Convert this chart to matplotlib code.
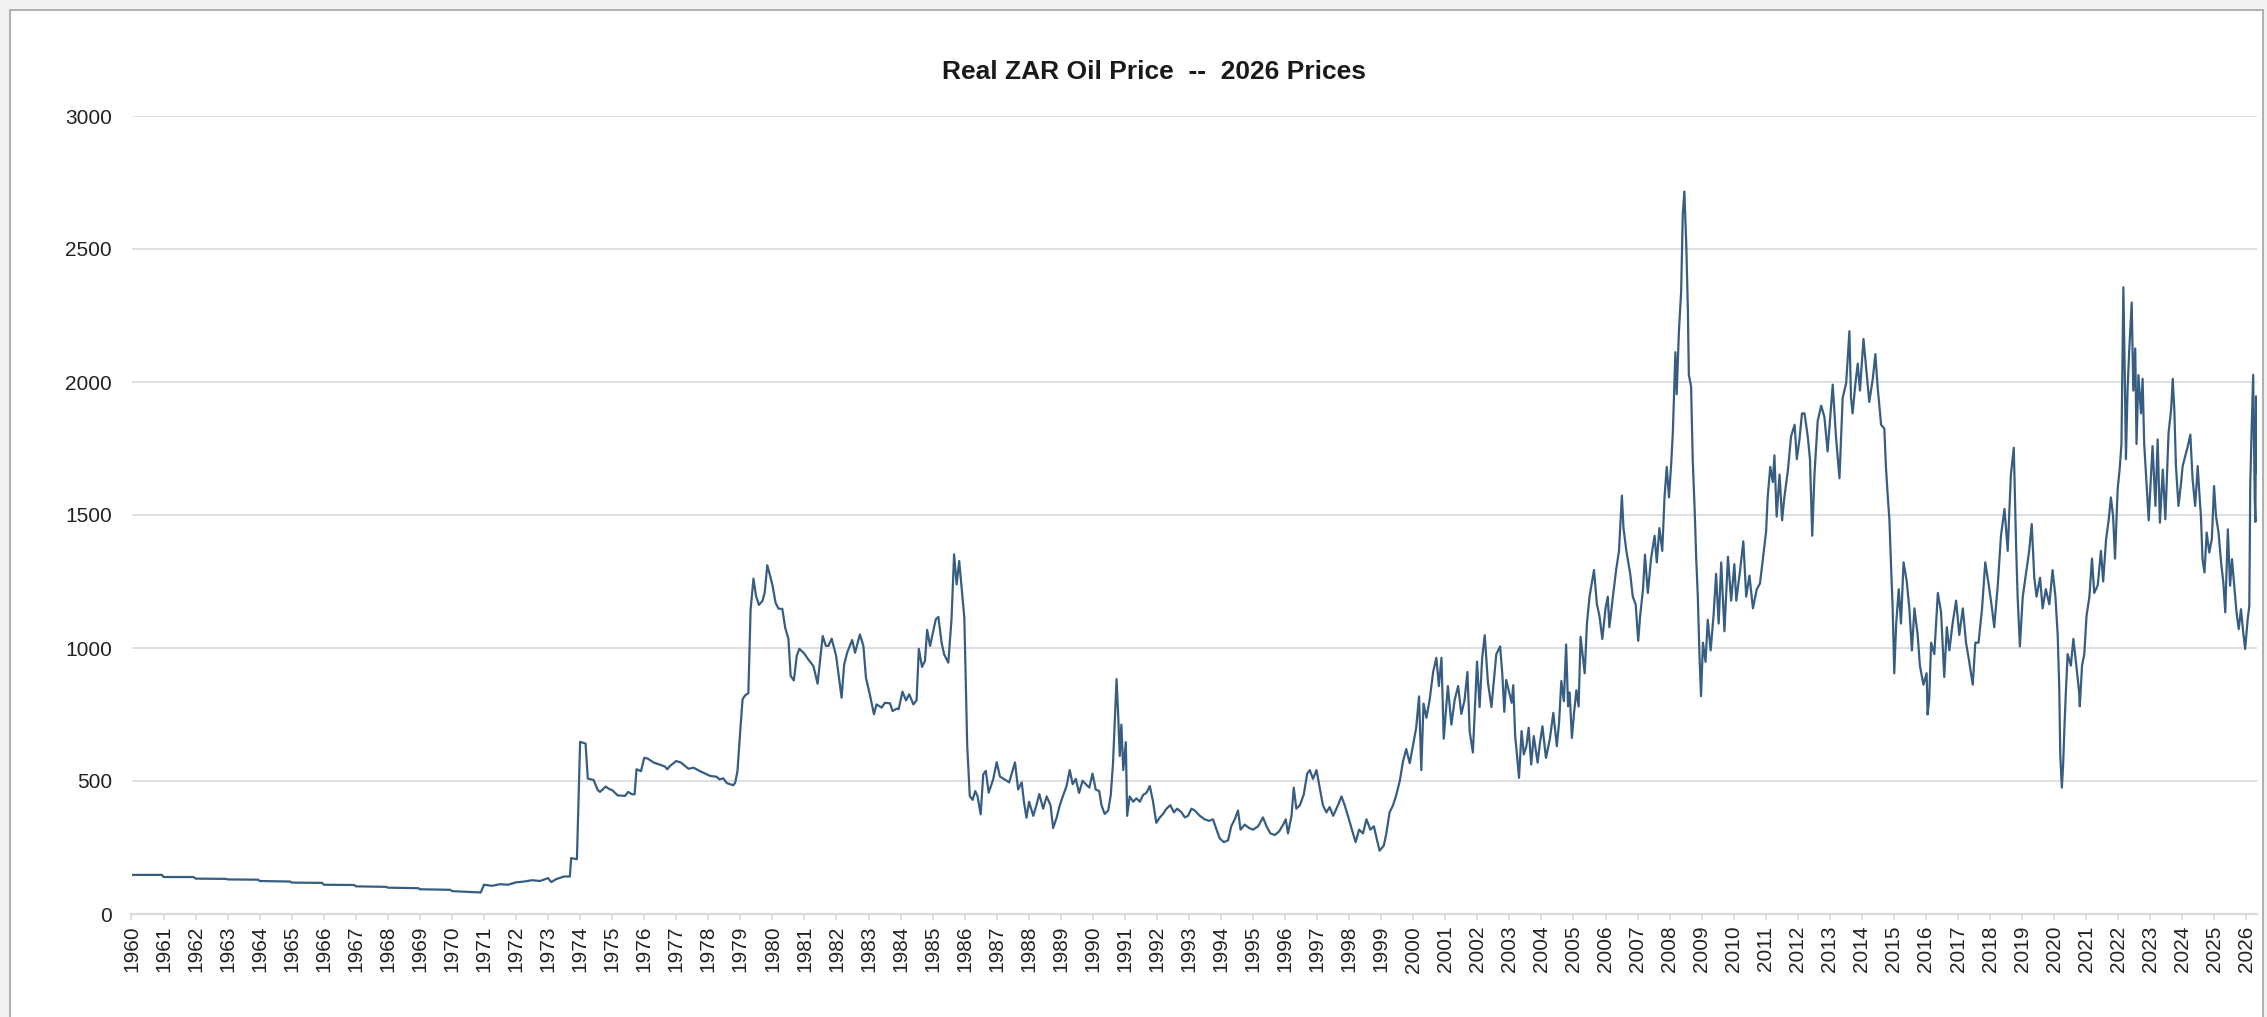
import numpy as np
import matplotlib
matplotlib.use("Agg")
import matplotlib.pyplot as plt
from matplotlib.patches import Rectangle

plt.rcParams["font.family"] = ["Liberation Sans", "DejaVu Sans"]

LINE_COL = "#375e82"
GRID_COL = "#d9d9d9"
TEXT_COL = "#222222"

TITLE = "Real ZAR Oil Price  --  2026 Prices"

# decimal year / real price (2026 rand)
t_1960 = [1960.00, 1960.95, 1961.00, 1961.93, 1962.00, 1962.95, 1963.00, 1963.95,
          1964.00, 1964.95, 1965.00, 1965.95, 1966.00, 1966.95, 1967.00, 1967.95,
          1968.00, 1968.95, 1969.00, 1969.95, 1970.00, 1970.90, 1971.00, 1971.25,
          1971.50, 1971.75, 1972.00, 1972.25, 1972.50, 1972.75, 1973.00, 1973.10,
          1973.25, 1973.50, 1973.68, 1973.72, 1973.90, 1974.00, 1974.17, 1974.24,
          1974.42, 1974.55, 1974.62, 1974.80, 1974.92, 1975.00, 1975.17, 1975.40,
          1975.50, 1975.62, 1975.70, 1975.76, 1975.90, 1976.00, 1976.10, 1976.30,
          1976.50, 1976.65, 1976.72, 1976.80, 1977.00, 1977.15, 1977.38, 1977.54,
          1977.74, 1978.06, 1978.26, 1978.35, 1978.47, 1978.58, 1978.78, 1978.84,
          1978.91]
p_1960 = [147, 147, 139, 139, 133, 132, 130, 129,
          124, 122, 118, 117, 110, 109, 104, 102,
          99, 97, 93, 91, 86, 81, 110, 106,
          112, 110, 119, 122, 127, 124, 135, 120,
          131, 141, 141, 210, 206, 647, 641, 509,
          504, 466, 459, 479, 469, 466, 446, 444,
          459, 450, 450, 544, 537, 587, 585, 569,
          561, 554, 544, 556, 575, 569, 546, 550,
          537, 519, 516, 506, 510, 492, 484, 494,
          537]

t_1979 = [1979.00, 1979.07, 1979.15, 1979.25, 1979.32, 1979.41, 1979.49, 1979.58,
          1979.69, 1979.76, 1979.84, 1979.93, 1980.01, 1980.10, 1980.19, 1980.31,
          1980.40, 1980.50, 1980.57, 1980.67, 1980.76, 1980.84, 1980.99, 1981.12,
          1981.28, 1981.41, 1981.57, 1981.67, 1981.75, 1981.85, 1981.99, 1982.16,
          1982.24, 1982.34, 1982.49, 1982.58, 1982.73, 1982.84, 1982.92, 1983.05,
          1983.17, 1983.25, 1983.41, 1983.51, 1983.67, 1983.75, 1983.88, 1983.94,
          1984.06, 1984.17, 1984.27, 1984.40, 1984.50, 1984.57, 1984.67, 1984.76,
          1984.83, 1984.92, 1985.10, 1985.18, 1985.28, 1985.36, 1985.49, 1985.59,
          1985.67, 1985.75, 1985.83, 1985.99, 1986.08, 1986.16, 1986.25, 1986.33,
          1986.40, 1986.50, 1986.58, 1986.66, 1986.75, 1986.89, 1987.00]
p_1979 = [694, 807, 822, 830, 1145, 1261, 1195, 1162,
          1177, 1208, 1311, 1271, 1231, 1170, 1148, 1147,
          1076, 1035, 895, 878, 970, 997, 980, 957,
          932, 866, 1045, 1008, 1008, 1035, 970, 813,
          939, 985, 1030, 982, 1051, 1008, 888, 820,
          751, 788, 776, 794, 792, 763, 772, 770,
          836, 803, 826, 788, 804, 997, 929, 951,
          1068, 1008, 1108, 1117, 1020, 976, 945, 1108,
          1352, 1239, 1327, 1114, 632, 444, 429, 462,
          444, 375, 525, 538, 456, 506, 571]

t_1987 = [1987.10, 1987.39, 1987.57, 1987.67, 1987.78, 1987.85, 1987.93, 1988.01,
          1988.14, 1988.24, 1988.33, 1988.45, 1988.56, 1988.68, 1988.76, 1988.87,
          1988.97, 1989.08, 1989.18, 1989.28, 1989.37, 1989.47, 1989.57, 1989.68,
          1989.78, 1989.89, 1989.99, 1990.09, 1990.20, 1990.27, 1990.37, 1990.48,
          1990.56, 1990.63, 1990.69, 1990.74, 1990.79, 1990.84, 1990.89, 1990.95,
          1991.03, 1991.07, 1991.15, 1991.26, 1991.36, 1991.47, 1991.57, 1991.67,
          1991.78, 1991.88, 1991.98, 1992.09, 1992.19, 1992.30, 1992.42, 1992.53,
          1992.63, 1992.77, 1992.87, 1992.97, 1993.08, 1993.18, 1993.34, 1993.49,
          1993.63, 1993.75, 1993.86, 1993.96, 1994.09, 1994.22, 1994.32, 1994.43,
          1994.53, 1994.61, 1994.74, 1994.88, 1995.00, 1995.16, 1995.31, 1995.42,
          1995.54, 1995.68, 1995.81, 1995.94, 1996.02, 1996.09, 1996.20, 1996.27,
          1996.35, 1996.46, 1996.58, 1996.69, 1996.77, 1996.87, 1996.98, 1997.08,
          1997.18, 1997.29, 1997.39, 1997.50, 1997.65, 1997.76, 1997.86, 1997.96,
          1998.07, 1998.20, 1998.31, 1998.43, 1998.54, 1998.66, 1998.77, 1998.87,
          1998.95, 1999.08, 1999.16, 1999.26, 1999.37, 1999.47, 1999.58, 1999.68,
          1999.78, 1999.89, 1999.99]
p_1987 = [517, 495, 570, 468, 495, 422, 362, 422,
          369, 409, 451, 396, 442, 409, 323, 362,
          409, 448, 481, 541, 488, 508, 455, 501,
          488, 475, 528, 468, 462, 409, 376, 389,
          448, 567, 738, 883, 752, 594, 712, 541,
          646, 369, 442, 422, 435, 422, 448, 455,
          481, 422, 343, 363, 376, 396, 409, 382,
          396, 382, 363, 369, 396, 389, 369, 356,
          350, 356, 317, 284, 270, 277, 330, 356,
          389, 317, 336, 323, 317, 330, 363, 330,
          303, 297, 310, 336, 356, 303, 369, 475,
          396, 409, 448, 528, 541, 508, 541, 475,
          409, 382, 402, 369, 409, 442, 409, 369,
          323, 270, 317, 303, 356, 317, 330, 277,
          238, 257, 303, 382, 409, 448, 501, 574,
          620, 567, 633]

t_2000 = [2000.09, 2000.18, 2000.25, 2000.32, 2000.41, 2000.51, 2000.62, 2000.72,
          2000.80, 2000.88, 2000.95, 2001.08, 2001.19, 2001.29, 2001.40, 2001.50,
          2001.60, 2001.69, 2001.76, 2001.86, 2001.99, 2002.07, 2002.15, 2002.23,
          2002.33, 2002.44, 2002.59, 2002.71, 2002.78, 2002.84, 2002.90, 2002.96,
          2003.07, 2003.12, 2003.18, 2003.22, 2003.30, 2003.38, 2003.45, 2003.53,
          2003.60, 2003.68, 2003.76, 2003.88, 2003.95, 2004.03, 2004.14, 2004.26,
          2004.37, 2004.48, 2004.55, 2004.62, 2004.70, 2004.77, 2004.83, 2004.88,
          2004.95, 2005.02, 2005.09, 2005.16, 2005.22, 2005.35, 2005.42, 2005.50,
          2005.64, 2005.73, 2005.81, 2005.90, 2006.00, 2006.07, 2006.12, 2006.23,
          2006.33, 2006.42, 2006.51, 2006.56, 2006.65, 2006.77, 2006.85, 2006.94,
          2007.02, 2007.08, 2007.17, 2007.23, 2007.32, 2007.42, 2007.53, 2007.60,
          2007.68, 2007.77, 2007.84, 2007.91, 2007.98, 2008.05, 2008.10, 2008.18,
          2008.22, 2008.29, 2008.36, 2008.41, 2008.46, 2008.52, 2008.57, 2008.60,
          2008.67, 2008.72, 2008.78, 2008.83, 2008.88, 2008.93, 2008.98, 2009.04,
          2009.12, 2009.19, 2009.28, 2009.37, 2009.45, 2009.53, 2009.61, 2009.71,
          2009.82, 2009.92, 2010.02, 2010.08, 2010.20, 2010.30, 2010.39, 2010.49,
          2010.60, 2010.72, 2010.82, 2010.91, 2011.01, 2011.06, 2011.14, 2011.22,
          2011.27, 2011.34, 2011.43, 2011.51, 2011.58, 2011.69, 2011.79, 2011.90,
          2011.97, 2012.05, 2012.13, 2012.21, 2012.31, 2012.38, 2012.45, 2012.52,
          2012.62, 2012.73, 2012.83, 2012.93, 2013.04, 2013.09, 2013.19, 2013.30,
          2013.40, 2013.51]
p_2000 = [699, 818, 541, 791, 738, 804, 910, 963,
          857, 963, 659, 857, 712, 804, 857, 752,
          804, 910, 686, 607, 949, 778, 963, 1048,
          870, 778, 976, 1006, 900, 760, 880, 850,
          794, 860, 669, 619, 512, 688, 600, 631,
          700, 562, 669, 569, 640, 706, 587, 656,
          756, 631, 720, 876, 800, 1013, 781, 833,
          662, 760, 841, 780, 1042, 905, 1092, 1193,
          1293, 1164, 1121, 1034, 1149, 1193, 1078, 1193,
          1293, 1365, 1573, 1451, 1365, 1279, 1193, 1164,
          1027, 1121, 1221, 1351, 1207, 1336, 1422, 1322,
          1451, 1365, 1566, 1681, 1566, 1695, 1810, 2112,
          1954, 2191, 2342, 2629, 2716, 2514, 2270, 2026,
          1983, 1710, 1523, 1336, 1193, 977, 819, 1020,
          948, 1106, 991, 1121, 1279, 1092, 1322, 1063,
          1343, 1178, 1315, 1178, 1293, 1401, 1193, 1272,
          1149, 1221, 1243, 1336, 1437, 1566, 1681, 1624,
          1724, 1494, 1652, 1480, 1566, 1667, 1796, 1839,
          1710, 1782, 1882, 1882, 1796, 1710, 1422, 1652,
          1853, 1911, 1868, 1739, 1911, 1990, 1796, 1638,
          1940, 1997]

t_2013 = [2013.61, 2013.66, 2013.71, 2013.80, 2013.87, 2013.94, 2014.05, 2014.13,
          2014.23, 2014.34, 2014.42, 2014.49, 2014.60, 2014.70, 2014.75, 2014.81,
          2014.86, 2014.91, 2014.96, 2015.01, 2015.07, 2015.15, 2015.22, 2015.30,
          2015.40, 2015.48, 2015.56, 2015.64, 2015.74, 2015.81, 2015.92, 2016.02,
          2016.05, 2016.10, 2016.16, 2016.26, 2016.37, 2016.47, 2016.57, 2016.65,
          2016.73, 2016.83, 2016.94, 2017.04, 2017.15, 2017.25, 2017.35, 2017.46,
          2017.54, 2017.64, 2017.75, 2017.85, 2017.96, 2018.06, 2018.13, 2018.24,
          2018.34, 2018.45, 2018.55, 2018.65, 2018.74, 2018.81, 2018.86, 2018.93,
          2019.02, 2019.12, 2019.22, 2019.30, 2019.38, 2019.45, 2019.56, 2019.64,
          2019.74, 2019.85, 2019.95, 2020.04, 2020.11, 2020.16, 2020.19, 2020.24,
          2020.28, 2020.32, 2020.36, 2020.42, 2020.52, 2020.60, 2020.68, 2020.78,
          2020.80, 2020.87, 2020.94, 2021.01, 2021.10, 2021.18, 2021.25, 2021.36,
          2021.46, 2021.53, 2021.62, 2021.70, 2021.77, 2021.84, 2021.90, 2021.98,
          2022.05, 2022.10, 2022.16, 2022.20, 2022.24, 2022.29, 2022.34, 2022.42,
          2022.47, 2022.53, 2022.57, 2022.63, 2022.71, 2022.76, 2022.81, 2022.88,
          2022.95]
p_2013 = [2191, 1940, 1882, 1997, 2069, 1968, 2162, 2055,
          1925, 2012, 2105, 1983, 1839, 1825, 1681, 1566,
          1480, 1307, 1149, 905, 1092, 1221, 1092, 1322,
          1250, 1149, 991, 1149, 1049, 934, 862, 905,
          750, 807, 1020, 977, 1207, 1135, 891, 1078,
          991, 1092, 1178, 1049, 1149, 1020, 948, 862,
          1020, 1020, 1149, 1322, 1236, 1149, 1078, 1236,
          1422, 1523, 1365, 1652, 1753, 1394, 1193, 1006,
          1193, 1279, 1365, 1466, 1264, 1193, 1264, 1149,
          1221, 1164, 1293, 1193, 1049, 848, 600, 475,
          560, 700, 819, 977, 934, 1034, 948, 833,
          781, 934, 977, 1121, 1193, 1336, 1207, 1236,
          1365, 1250, 1408, 1480, 1566, 1494, 1336, 1595,
          1681, 1767, 2356, 2055, 1710, 1968, 2112, 2299,
          1968, 2126, 1767, 2026, 1882, 2012, 1767, 1624,
          1480]

t_2023 = [2023.07, 2023.16, 2023.23, 2023.30, 2023.39, 2023.47, 2023.57, 2023.65,
          2023.70, 2023.75, 2023.80, 2023.88, 2023.96, 2024.01, 2024.09, 2024.17,
          2024.25, 2024.32, 2024.40, 2024.48, 2024.53, 2024.58, 2024.63, 2024.69,
          2024.76, 2024.84, 2024.92, 2024.99, 2025.05, 2025.13, 2025.21, 2025.28,
          2025.34, 2025.42, 2025.49, 2025.55, 2025.62, 2025.69, 2025.76, 2025.83,
          2025.90, 2025.96, 2026.04, 2026.09, 2026.12, 2026.16, 2026.21, 2026.26,
          2026.28, 2026.30, 2026.33]
p_2023 = [1759, 1534, 1784, 1471, 1671, 1484, 1809, 1896,
          2012, 1896, 1684, 1534, 1621, 1684, 1721, 1759,
          1802, 1634, 1534, 1684, 1584, 1496, 1334, 1284,
          1434, 1359, 1409, 1609, 1496, 1434, 1321, 1246,
          1134, 1446, 1234, 1334, 1234, 1134, 1071, 1146,
          1059, 996, 1109, 1159, 1621, 1809, 2027, 1559,
          1474, 1946, 1659]

years = np.array(t_1960 + t_1979 + t_1987 + t_2000 + t_2013 + t_2023)
price = np.array(p_1960 + p_1979 + p_1987 + p_2000 + p_2013 + p_2023)

W, H = 2267, 1017
fig = plt.figure(figsize=(W / 100, H / 100), dpi=100)
fig.patch.set_facecolor("#f1f1f1")

# white chart panel with grey frame
panel = Rectangle((10 / W, -0.02), (2263 - 10) / W, 1007 / H + 0.02,
                  transform=fig.transFigure, facecolor="white",
                  edgecolor="#a9a9a9", linewidth=1.3, zorder=-1)
fig.patches.append(panel)

ax = fig.add_axes([131.5 / W, 1 - 914 / H, (2257 - 131.5) / W, (914 - 116) / H])
ax.set_facecolor("none")

ax.plot(years, price, color=LINE_COL, linewidth=1.6, solid_joinstyle="round")

ax.set_xlim(1960, 2026.33)
ax.set_ylim(0, 3000)
ax.set_yticks(np.arange(0, 3001, 500))
ax.set_xticks(np.arange(1960, 2027))
ax.set_xticklabels([str(y) for y in range(1960, 2027)])

ax.yaxis.grid(True, color=GRID_COL, linewidth=1.2)
ax.set_axisbelow(True)
for s in ("top", "right", "left"):
    ax.spines[s].set_visible(False)
ax.spines["bottom"].set_color(GRID_COL)
ax.spines["bottom"].set_linewidth(1.6)

ax.tick_params(axis="y", length=0, pad=14, labelsize=15, labelcolor=TEXT_COL)
ax.tick_params(axis="x", length=4.5, width=1.2, color=GRID_COL, pad=4,
               labelsize=15, labelcolor=TEXT_COL, labelrotation=90)

fig.text(1154.5 / W, 1 - 79 / H, TITLE, ha="center", va="baseline",
         fontsize=19, fontweight="bold", color="#1a1a1a")

fig.savefig("out.png", dpi=100, facecolor=fig.get_facecolor())
